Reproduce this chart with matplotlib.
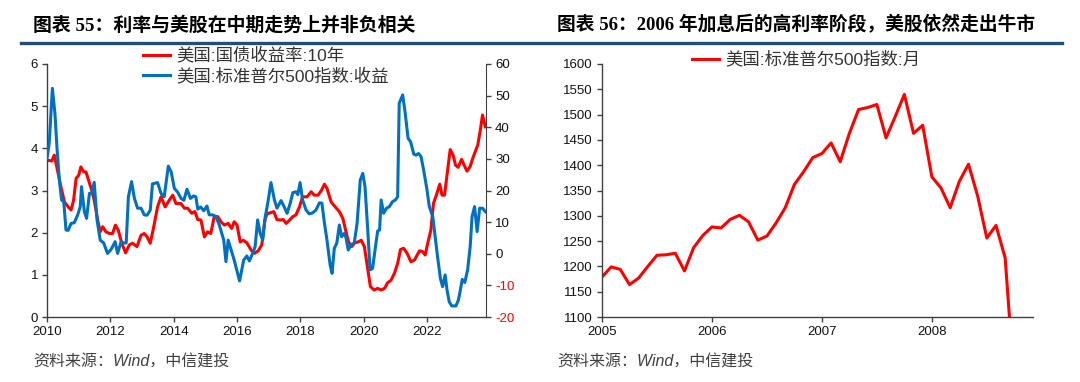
import matplotlib
matplotlib.use('Agg')
import matplotlib.pyplot as plt
from matplotlib.lines import Line2D

plt.rcParams['font.family'] = ['Liberation Sans', 'Noto Sans CJK SC']
plt.rcParams['axes.unicode_minus'] = False

# ---- left chart: 10y treasury yield (left axis) and S&P 500 YoY return (right axis)
yield_dates = [
    2010.00, 2010.15, 2010.23, 2010.33, 2010.44, 2010.55, 2010.67, 2010.76, 2010.84, 2010.92,
    2011.00, 2011.07, 2011.16, 2011.23, 2011.31, 2011.41, 2011.49, 2011.60, 2011.68, 2011.76,
    2011.86, 2011.97, 2012.07, 2012.16, 2012.25, 2012.36, 2012.48, 2012.60, 2012.70, 2012.84,
    2012.97, 2013.07, 2013.16, 2013.26, 2013.37, 2013.49, 2013.60, 2013.73, 2013.86, 2013.97,
    2014.07, 2014.23, 2014.34, 2014.44, 2014.57, 2014.67, 2014.76, 2014.86, 2014.97, 2015.07,
    2015.17, 2015.28, 2015.39, 2015.49, 2015.60, 2015.72, 2015.83, 2015.91, 2016.00, 2016.10,
    2016.20, 2016.31, 2016.44, 2016.55, 2016.67, 2016.78, 2016.88, 2016.95, 2017.00, 2017.16,
    2017.26, 2017.37, 2017.46, 2017.55, 2017.66, 2017.76, 2017.86, 2017.97, 2018.07, 2018.21,
    2018.34, 2018.44, 2018.56, 2018.67, 2018.76, 2018.84, 2018.97, 2019.10, 2019.23, 2019.34,
    2019.44, 2019.52, 2019.62, 2019.72, 2019.82, 2019.92, 2020.02, 2020.10, 2020.21, 2020.33,
    2020.44, 2020.55, 2020.66, 2020.75, 2020.86, 2020.97, 2021.07, 2021.16, 2021.26, 2021.37,
    2021.49, 2021.60, 2021.76, 2021.86, 2021.94, 2022.02, 2022.12, 2022.20, 2022.31, 2022.40,
    2022.47, 2022.55, 2022.65, 2022.73, 2022.82, 2022.90, 2022.98, 2023.09, 2023.17, 2023.26,
    2023.36, 2023.44, 2023.60, 2023.68, 2023.75, 2023.84,
]
yield_10y = [
    3.72, 3.70, 3.84, 3.48, 3.09, 2.73, 2.61, 2.54, 2.77, 3.29,
    3.36, 3.56, 3.44, 3.44, 3.25, 3.01, 2.77, 2.30, 2.02, 2.14,
    2.02, 1.98, 1.98, 2.18, 2.06, 1.75, 1.52, 1.71, 1.75, 1.67,
    1.94, 1.98, 1.90, 1.75, 2.14, 2.61, 2.85, 2.61, 2.77, 2.89,
    2.69, 2.69, 2.58, 2.58, 2.46, 2.50, 2.31, 2.30, 1.90, 2.02,
    1.98, 2.38, 2.38, 2.26, 2.18, 2.22, 2.10, 2.26, 2.18, 1.78,
    1.82, 1.76, 1.59, 1.51, 1.57, 1.71, 2.30, 2.46, 2.46, 2.50,
    2.31, 2.30, 2.31, 2.22, 2.30, 2.38, 2.42, 2.61, 2.85, 2.85,
    2.97, 2.89, 2.89, 3.01, 3.15, 3.05, 2.73, 2.61, 2.50, 2.34,
    2.02, 1.78, 1.67, 1.76, 1.78, 1.82, 1.67, 1.27, 0.72, 0.64,
    0.68, 0.64, 0.68, 0.81, 0.87, 1.04, 1.27, 1.60, 1.63, 1.51,
    1.31, 1.35, 1.57, 1.55, 1.47, 1.75, 2.06, 2.69, 2.93, 3.15,
    2.89, 2.89, 3.48, 3.97, 3.84, 3.60, 3.55, 3.74, 3.60, 3.46,
    3.57, 3.76, 4.08, 4.43, 4.79, 4.51,
]

spx_dates = [
    2010.00, 2010.07, 2010.17, 2010.25, 2010.32, 2010.39, 2010.46, 2010.53, 2010.60, 2010.67,
    2010.76, 2010.86, 2010.97, 2011.05, 2011.09, 2011.18, 2011.25, 2011.34, 2011.41, 2011.49,
    2011.58, 2011.68, 2011.79, 2011.91, 2012.02, 2012.15, 2012.23, 2012.34, 2012.42, 2012.50,
    2012.57, 2012.67, 2012.76, 2012.86, 2012.97, 2013.07, 2013.16, 2013.26, 2013.33, 2013.49,
    2013.60, 2013.70, 2013.83, 2013.92, 2014.02, 2014.13, 2014.23, 2014.32, 2014.42, 2014.53,
    2014.63, 2014.70, 2014.76, 2014.85, 2014.95, 2015.05, 2015.12, 2015.23, 2015.33, 2015.44,
    2015.58, 2015.65, 2015.72, 2015.83, 2015.91, 2016.02, 2016.08, 2016.15, 2016.21, 2016.31,
    2016.39, 2016.49, 2016.57, 2016.65, 2016.73, 2016.81, 2016.89, 2016.97, 2017.07, 2017.18,
    2017.26, 2017.39, 2017.48, 2017.58, 2017.68, 2017.76, 2017.86, 2017.92, 2017.99, 2018.07,
    2018.18, 2018.28, 2018.38, 2018.49, 2018.60, 2018.68, 2018.76, 2018.84, 2018.94, 2019.00,
    2019.07, 2019.15, 2019.23, 2019.30, 2019.38, 2019.44, 2019.51, 2019.60, 2019.70, 2019.79,
    2019.89, 2019.97, 2020.04, 2020.12, 2020.20, 2020.28, 2020.37, 2020.44, 2020.50, 2020.55,
    2020.63, 2020.72, 2020.81, 2020.91, 2021.00, 2021.07, 2021.12, 2021.23, 2021.31, 2021.40,
    2021.48, 2021.58, 2021.65, 2021.73, 2021.81, 2021.89, 2021.99, 2022.07, 2022.18, 2022.25,
    2022.33, 2022.42, 2022.49, 2022.57, 2022.63, 2022.70, 2022.78, 2022.91, 2022.99, 2023.05,
    2023.11, 2023.19, 2023.28, 2023.36, 2023.42, 2023.50, 2023.58, 2023.66, 2023.75, 2023.84,
]
spx_yoy = [
    30.2, 34.9, 52.3, 44.4, 32.8, 23.3, 17.0, 16.4, 7.5, 7.4,
    9.6, 9.8, 12.3, 14.9, 21.2, 13.3, 11.2, 19.1, 19.1, 22.6,
    10.7, 4.3, 3.4, 0.1, 1.3, 3.8, 0.1, 3.8, 3.4, 3.4,
    18.0, 22.8, 17.5, 14.4, 14.4, 12.3, 12.2, 13.8, 22.1, 22.5,
    19.1, 18.0, 27.7, 25.9, 20.7, 19.4, 17.5, 16.9, 20.4, 17.5,
    18.3, 18.0, 14.1, 14.8, 13.6, 15.1, 12.3, 12.3, 11.8, 9.1,
    4.3, -2.5, 4.3, 0.6, -2.0, -6.2, -8.6, -5.1, -2.0, -0.7,
    -2.3, 0.1, 2.2, 10.7, 6.5, 4.3, 11.7, 16.0, 22.5, 17.0,
    14.4, 16.8, 15.0, 12.8, 16.0, 19.3, 19.6, 18.7, 22.5, 17.0,
    13.8, 12.6, 12.9, 13.8, 16.1, 16.0, 9.6, 4.3, -3.6, -6.2,
    1.7, 3.4, 9.1, 5.4, 6.4, 5.1, 1.2, 2.8, 3.4, 9.6,
    23.3, 25.4, 21.2, 8.6, -5.1, -4.6, 2.2, 7.2, 7.5, 17.0,
    12.8, 14.4, 14.9, 16.5, 17.0, 18.0, 47.6, 50.2, 44.4, 36.5,
    35.4, 31.5, 31.2, 31.7, 30.7, 26.5, 20.7, 14.9, 11.7, 5.9,
    -0.9, -7.8, -10.4, -6.7, -11.5, -15.2, -16.5, -16.5, -14.6, -11.5,
    -8.1, -9.1, -5.1, 2.2, 11.7, 14.9, 7.0, 14.4, 14.4, 13.3,
]

# ---- right chart: S&P 500 monthly, Jan 2005 - Oct 2008
spx_monthly = [
    1179, 1199, 1194, 1164, 1177, 1200, 1222, 1223, 1226, 1191, 1237, 1261,
    1278, 1276, 1293, 1301, 1288, 1252, 1260, 1286, 1316, 1362, 1387, 1415,
    1423, 1444, 1407, 1463, 1510, 1514, 1520, 1454, 1496, 1540, 1463, 1479,
    1377, 1355, 1316, 1368, 1402, 1339, 1256, 1281, 1217, 968,
]
month_dates = [2005 + i / 12 for i in range(len(spx_monthly))]

RED = '#FF0000'
BLUE = '#0070C0'
AXC = '#404040'
W, H = 1080, 382


def px_axes(fig, x0, y0, x1, y1):
    return fig.add_axes([x0 / W, 1 - y1 / H, (x1 - x0) / W, (y1 - y0) / H])


def style_ax(ax):
    for s in ['top', 'right']:
        ax.spines[s].set_visible(False)
    for s in ['left', 'bottom']:
        ax.spines[s].set_color(AXC)
        ax.spines[s].set_linewidth(1.0)
    ax.tick_params(direction='out', length=3.5, width=1.0, color=AXC,
                   labelsize=9.5, labelcolor='#111111', pad=3)


fig = plt.figure(figsize=(W / 100, H / 100), dpi=100)

# titles and rule
title_family = ['Liberation Serif', 'Noto Sans CJK SC']
fig.text(33 / W, 1 - 25 / H, '图表 55：利率与美股在中期走势上并非负相关', fontsize=13.6,
         fontweight='bold', va='center', ha='left', family=title_family)
fig.text(557 / W, 1 - 25 / H, '图表 56：2006 年加息后的高利率阶段，美股依然走出牛市', fontsize=13.5,
         fontweight='bold', va='center', ha='left', family=title_family)
fig.add_artist(Line2D([21 / W, 1062 / W], [1 - 43 / H, 1 - 43 / H], color='#1F4E79',
                      linewidth=2.4, transform=fig.transFigure))

# left chart
ax1 = px_axes(fig, 47, 64, 486, 317)
style_ax(ax1)
ax1.plot(yield_dates, yield_10y, color=RED, linewidth=2.2, label='美国:国债收益率:10年')
ax1.set_xlim(2010, 2023.86)
ax1.set_ylim(0, 6)
ax1.set_xticks(range(2010, 2023, 2))
ax1.set_yticks(range(0, 7))

ax2 = ax1.twinx()
ax2.spines['top'].set_visible(False)
ax2.spines['left'].set_visible(False)
ax2.spines['bottom'].set_visible(False)
ax2.spines['right'].set_color(AXC)
ax2.plot(spx_dates, spx_yoy, color=BLUE, linewidth=2.2, label='美国:标准普尔500指数:收益')
ax2.set_ylim(-20, 60)
ax2.set_yticks(range(-20, 61, 10))
ax2.tick_params(direction='out', length=3.5, width=1.0, color=AXC,
                labelsize=9.5, labelcolor='#111111', pad=3)
for lab, v in zip(ax2.get_yticklabels(), range(-20, 61, 10)):
    if v < 0:
        lab.set_color(RED)

h1, l1 = ax1.get_legend_handles_labels()
h2, l2 = ax2.get_legend_handles_labels()
fig.legend(h1 + h2, l1 + l2, loc='upper left', bbox_to_anchor=(143 / W, 1 - 47 / H),
           bbox_transform=fig.transFigure, frameon=False, fontsize=12.5,
           handlelength=1.55, handletextpad=0.35, labelspacing=0.2, borderpad=0,
           borderaxespad=0, labelcolor='#333333')

# right chart
ax3 = px_axes(fig, 602, 64, 1033, 317)
style_ax(ax3)
ax3.plot(month_dates, spx_monthly, color=RED, linewidth=2.2, label='美国:标准普尔500指数:月')
ax3.set_xlim(2005, 2008.92)
ax3.set_ylim(1100, 1600)
ax3.set_xticks(range(2005, 2009))
ax3.set_yticks(range(1100, 1601, 50))
fig.legend(*ax3.get_legend_handles_labels(), loc='upper left',
           bbox_to_anchor=(692 / W, 1 - 51 / H), bbox_transform=fig.transFigure,
           frameon=False, fontsize=12.5, handlelength=1.55, handletextpad=0.35,
           borderpad=0, borderaxespad=0, labelcolor='#333333')

# sources
for x in (33, 557):
    fig.text(x / W, 1 - 362 / H, '资料来源：Wind，中信建投', fontsize=11.5, style='italic',
             color='#404040', va='center', ha='left')

fig.savefig('out.png', dpi=100)
